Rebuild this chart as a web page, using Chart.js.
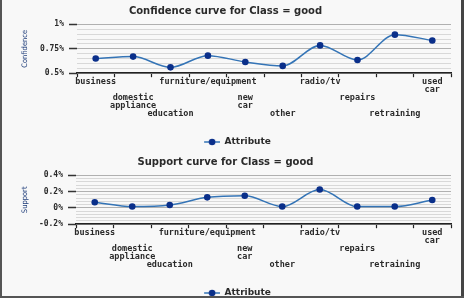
<!DOCTYPE html>
<html>
<head>
<meta charset="utf-8">
<script src="https://cdn.jsdelivr.net/npm/chart.js@4.4.1/dist/chart.umd.min.js"></script>
<style>
  html, body { margin: 0; padding: 0; background: #f8f8f8; }
  #wrap { position: relative; width: 464px; height: 298px; overflow: hidden; background: #f8f8f8; }
  .box { position: absolute; left: 0; width: 464px; height: 157px; }
  #b1 { top: 0; }
  #b2 { top: 151px; }
  .bl { position: absolute; left: 0; top: 0; width: 2px; height: 298px; background: #555; }
  .br { position: absolute; right: 0; top: 0; width: 3px; height: 298px; background: #444; }
  .bb { position: absolute; left: 0; bottom: 0; width: 464px; height: 2px; background: #555; }
</style>
</head>
<body>
<div id="wrap">
  <div class="box" id="b1"><canvas id="c1"></canvas></div>
  <div class="box" id="b2"><canvas id="c2"></canvas></div>
  <div class="bl"></div><div class="br"></div><div class="bb"></div>
</div>
<script>
// ---- data ----
const categories = ['business', 'domestic appliance', 'education', 'furniture/equipment', 'new car', 'other', 'radio/tv', 'repairs', 'retraining', 'used car'];
// staggered tick labels (rows of the original axis)
const tickLabels = [
  ['business'],
  ['', '', 'domestic', 'appliance'],
  ['', '', '', '', 'education'],
  ['furniture/equipment'],
  ['', '', 'new', 'car'],
  ['', '', '', '', 'other'],
  ['radio/tv'],
  ['', '', 'repairs'],
  ['', '', '', '', 'retraining'],
  ['used', 'car']
];
const confidenceValues = [0.65, 0.67, 0.56, 0.68, 0.615, 0.575, 0.785, 0.635, 0.895, 0.835];
const supportValues = [0.07, 0.017, 0.036, 0.13, 0.15, 0.017, 0.227, 0.017, 0.017, 0.097];
const seriesName = 'Attribute';
const confTicks = { min: 0.5, max: 1, step: 0.05, major: 0.25 };
const suppTicks = { min: -0.2, max: 0.4, step: 0.04, major: 0.2 };

// ---- styling ----
const lineColor = '#3474b6';
const pointColor = '#0a2f8a';
const textColor = '#2a2a2a';
const monoFont = "'DejaVu Sans Mono', monospace";
const sansFont = "'DejaVu Sans', sans-serif";

const LPAD = 24;
const legendImg = document.createElement('canvas');
legendImg.width = 16 + LPAD; legendImg.height = 8;
(function () {
  const g = legendImg.getContext('2d');
  g.strokeStyle = lineColor; g.lineWidth = 1.5;
  g.beginPath(); g.moveTo(LPAD, 4); g.lineTo(LPAD + 16, 4); g.stroke();
  g.fillStyle = pointColor;
  g.beginPath(); g.arc(LPAD + 8, 4, 3.3, 0, Math.PI * 2); g.fill();
})();

function isMajor(v, major) {
  const r = v / major;
  return Math.abs(r - Math.round(r)) < 1e-6;
}
function fmt(v) {
  const s = parseFloat(v.toFixed(4)).toString();
  return s + '%';
}

function makeChart(id, title, yTitle, values, t, yWidth) {
  return new Chart(document.getElementById(id), {
    type: 'line',
    data: {
      labels: categories,
      datasets: [{
        label: seriesName,
        data: values,
        borderColor: lineColor,
        borderWidth: 1.5,
        backgroundColor: pointColor,
        pointBackgroundColor: pointColor,
        pointBorderColor: pointColor,
        pointRadius: 3.3,
        pointBorderWidth: 0,
        cubicInterpolationMode: 'monotone',
        fill: false
      }]
    },
    options: {
      responsive: true,
      maintainAspectRatio: false,
      animation: false,
      layout: { padding: { left: 0, right: 13, top: 0, bottom: 0.5 } },
      plugins: {
        title: {
          display: true, text: title, color: textColor,
          font: { family: sansFont, size: 10, weight: 'bold' },
          padding: { top: 5, bottom: 7.4 }
        },
        legend: {
          display: true, position: 'bottom',
          labels: {
            usePointStyle: true, pointStyle: legendImg, pointStyleWidth: 16 + LPAD,
            color: textColor, padding: 3,
            font: { family: sansFont, size: 9, weight: 'bold' }
          }
        },
        tooltip: { enabled: false }
      },
      scales: {
        x: {
          type: 'category',
          offset: true,
          grid: {
            display: true, offset: true, drawOnChartArea: false, drawTicks: true,
            tickLength: 4, tickColor: '#222', tickWidth: 1.2
          },
          border: { display: true, color: '#222', width: 1.5 },
          ticks: {
            autoSkip: false, maxRotation: 0, minRotation: 0, padding: 0,
            color: textColor,
            font: { family: monoFont, size: 8.5, weight: 'bold', lineHeight: 0.965 },
            callback: (v, i) => tickLabels[i]
          },
          afterFit: s => { s.height = 61.3; }
        },
        y: {
          min: t.min, max: t.max,
          grid: {
            display: true, drawTicks: true, tickLength: 8,
            color: c => isMajor(c.tick.value, t.major) ? '#b0b0b0' : '#d8d8d8',
            tickColor: c => isMajor(c.tick.value, t.major) ? '#333' : 'rgba(0,0,0,0)',
            lineWidth: 1, tickWidth: 1.5
          },
          border: { display: false },
          ticks: {
            stepSize: t.step, autoSkip: false, padding: 5, color: textColor,
            font: { family: monoFont, size: 8, weight: 'bold' },
            callback: v => isMajor(v, t.major) ? fmt(v) : ''
          },
          title: {
            display: true, text: yTitle, color: '#1f3d7a',
            font: { family: "'Liberation Sans Narrow', 'DejaVu Sans Condensed', sans-serif", size: 7.5 },
            padding: { top: 20.3, bottom: 0 }
          },
          afterFit: s => { s.width = yWidth; }
        }
      }
    }
  });
}

makeChart('c1', 'Confidence curve for Class = good', 'Confidence', confidenceValues, confTicks, 77);
makeChart('c2', 'Support curve for Class = good', 'Support', supportValues, suppTicks, 76);
</script>
</body>
</html>
